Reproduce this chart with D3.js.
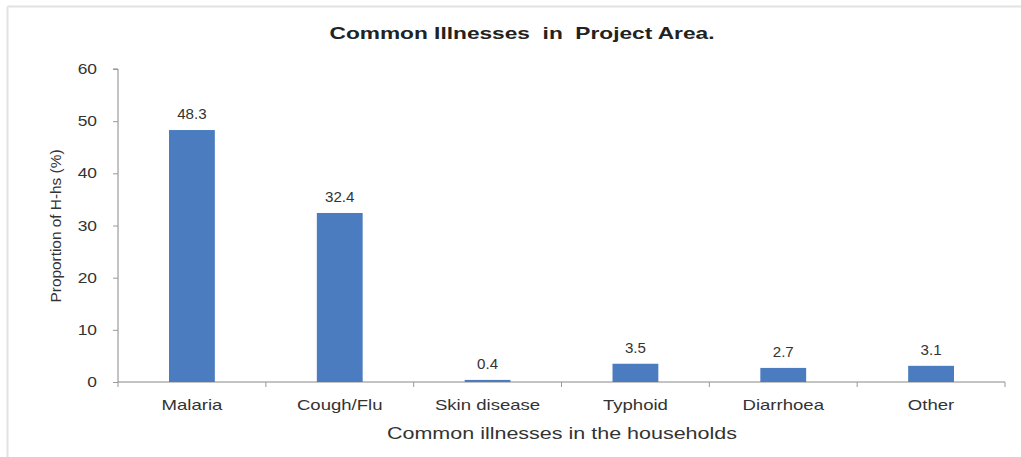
<!DOCTYPE html>
<html><head><meta charset="utf-8">
<script src="https://cdn.jsdelivr.net/npm/d3@7"></script>
<style>body{margin:0;background:#fff}svg{display:block}</style>
</head><body>
<svg id="c" width="1021" height="457"></svg>
<script>
const categories = ["Malaria","Cough/Flu","Skin disease","Typhoid","Diarrhoea","Other"];
const values = [48.3,32.4,0.4,3.5,2.7,3.1];
const yTicks = [0,10,20,30,40,50,60];
const title = "Common Illnesses  in  Project Area.";
const xTitle = "Common illnesses in the households";
const yTitle = "Proportion of H-hs (%)";

const svg = d3.select("#c");
const font = "Arial, 'Liberation Sans', sans-serif";
function stretch(sel, f){ sel.each(function(){ const l=this.getComputedTextLength(); d3.select(this).attr("textLength",l*f).attr("lengthAdjust","spacingAndGlyphs"); }); }
function fit(sel, w){ sel.attr("textLength",w).attr("lengthAdjust","spacingAndGlyphs"); }

// frame
svg.append("line").attr("x1",7.5).attr("x2",1021).attr("y1",6.5).attr("y2",6.5).attr("stroke","#e2e2e2").attr("stroke-width",2);
svg.append("line").attr("x1",7.5).attr("x2",7.5).attr("y1",6.5).attr("y2",457).attr("stroke","#e2e2e2").attr("stroke-width",2);

const x0 = 118, x1 = 1005, y0 = 382, y1 = 69;
const x = d3.scaleBand().domain(categories).range([x0,x1]).paddingInner(0.69).paddingOuter(0.345);
const y = d3.scaleLinear().domain([0,60]).range([y0,y1]);

// y axis
const ya = svg.append("g").attr("transform",`translate(${x0},0)`)
  .call(d3.axisLeft(y).tickValues(yTicks).tickSize(5).tickPadding(16).tickFormat(d3.format("d")));
ya.select(".domain").attr("stroke","#888").attr("d",`M-5,${y1}H0V${y0}`);
ya.selectAll(".tick line").attr("stroke","#999");
ya.selectAll("text").attr("font-family",font).attr("font-size",14.5).attr("fill","#333");
stretch(ya.selectAll("text"),1.2);

// x axis
const xa = svg.append("g").attr("transform",`translate(0,${y0})`);
xa.append("line").attr("x1",x0).attr("x2",x1).attr("stroke","#888");
const step = x.step();
const bounds = d3.range(categories.length+1).map(i => x0 + i*step);
xa.selectAll("line.t").data(bounds).join("line").attr("class","t")
  .attr("x1",d=>d).attr("x2",d=>d).attr("y1",0).attr("y2",5).attr("stroke","#999");
const cl = xa.selectAll("text").data(categories).join("text")
  .attr("x",d=>x(d)+x.bandwidth()/2).attr("y",28).attr("text-anchor","middle")
  .attr("font-family",font).attr("font-size",14.5).attr("fill","#333").text(d=>d);
stretch(cl,1.28);

// bars
svg.selectAll("rect.bar").data(values).join("rect").attr("class","bar")
  .attr("x",(d,i)=>x(categories[i])).attr("width",x.bandwidth())
  .attr("y",d=>y(d)).attr("height",d=>y0-y(d)).attr("fill","#4a7cbf");
const vl = svg.selectAll("text.v").data(values).join("text").attr("class","v")
  .attr("x",(d,i)=>x(categories[i])+x.bandwidth()/2).attr("y",d=>y(d)-11)
  .attr("text-anchor","middle").attr("font-family",font).attr("font-size",14).attr("fill","#333")
  .text(d=>d.toFixed(1));
stretch(vl,1.08);

// titles
fit(svg.append("text").attr("x",522).attr("y",39).attr("text-anchor","middle")
  .attr("font-family",font).attr("font-size",16.5).attr("font-weight","bold").attr("fill","#222")
  .attr("xml:space","preserve").style("white-space","pre").text(title), 385);
fit(svg.append("text").attr("x",562).attr("y",439).attr("text-anchor","middle")
  .attr("font-family",font).attr("font-size",16).attr("fill","#333").text(xTitle), 350);
fit(svg.append("text").attr("transform","translate(61,226) rotate(-90)").attr("text-anchor","middle")
  .attr("font-family",font).attr("font-size",15).attr("fill","#333").text(yTitle), 153);
</script>
</body></html>
